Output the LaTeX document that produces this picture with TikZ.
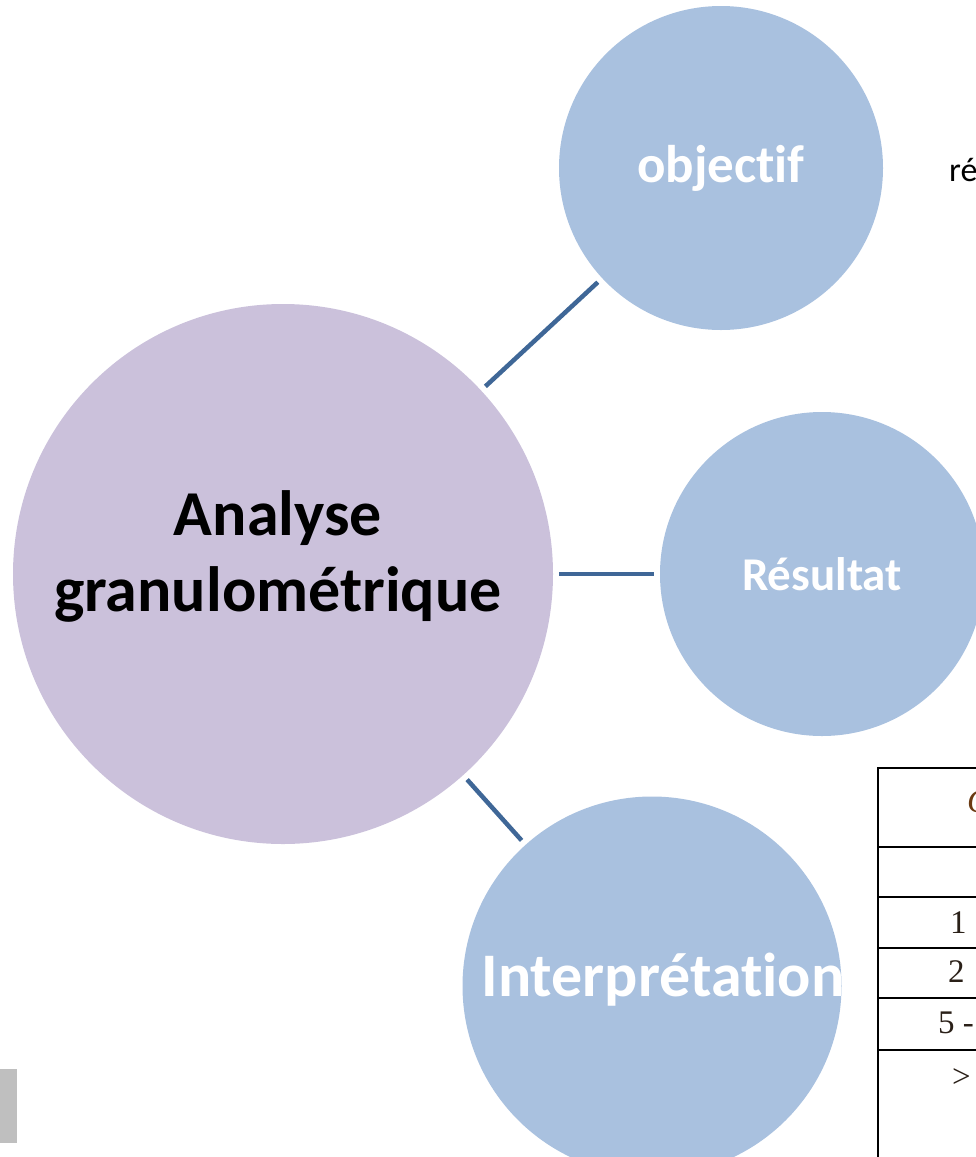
\documentclass[tikz,border=0pt]{standalone}
\usepackage{fontspec}
\setmainfont{Carlito}[RawFeature={-liga;-clig;-dlig}]
\newfontfamily\tabfont{Liberation Serif}
\definecolor{mauve}{HTML}{CBC1DB}
\definecolor{bleu}{HTML}{A9C1DF}
\definecolor{trait}{HTML}{3F6797}
\definecolor{encre}{HTML}{2A2018}
\definecolor{gris}{HTML}{BFBFBF}
\definecolor{brun}{HTML}{6B3A12}
\tikzset{
  bulle/.style={circle, inner sep=0pt, outer sep=0pt},
  titre/.style={text=white, font=\bfseries\fontsize{#1}{#1}\selectfont},
  lien/.style={draw=trait, line width=4.5pt, shorten <=6pt, shorten >=6pt},
  grille/.style={draw=black, line width=1.6pt},
  cellule/.style={text=encre, anchor=west, inner sep=0pt, font=\tabfont\fontsize{33}{33}\selectfont}
}

\begin{document}
\begin{tikzpicture}[x=1pt, y=-1pt]
\useasboundingbox (0,0) rectangle (976,1157);
\clip (0,0) rectangle (976,1157);

% central topic
\node[bulle, fill=mauve, minimum size=540pt] (main) at (283,574) {};
\node[align=center, font=\bfseries\fontsize{64}{76}\selectfont] (maintxt) at (278,556)
  {Analyse\\granulométrique};

% satellite topics
\node[bulle, fill=bleu, minimum size=324pt] (obj) at (721,168) {};
\node[titre=53] (objtxt) at (721,168) {objectif};
\node[bulle, fill=bleu, minimum size=324pt] (res) at (822,574) {};
\node[titre=47] (restxt) at (822,574) {Résultat};
\node[bulle, fill=bleu, minimum size=379pt] (int) at (652,986) {};
\node[titre=62] (inttxt) at (663,980) {Interprétation};

% connectors
\draw[lien] (main) -- (obj);
\draw[lien] (main) -- (res);
\draw[lien] (main) -- (int);

% text beside the objective
\node[anchor=west, inner sep=0pt, font=\fontsize{34}{34}\selectfont] (txt) at (949,170) {ré};

% table (left part)
\draw[grille] (878,1160) -- (878,768) -- (980,768);
\foreach \yy in {847,897,948,998,1050} \draw[grille] (878,\yy) -- (980,\yy);
\node[cellule, text=brun, font=\tabfont\itshape\fontsize{33}{33}\selectfont] (c0) at (967,802) {C};
\node[cellule] (c1) at (950,923) {1};
\node[cellule] (c2) at (948,972) {2};
\node[cellule] (c3) at (938,1023) {5 -};
\node[cellule] (c4) at (952,1078) {>};

% grey margin tab
\fill[gris] (0,1069) rectangle (17,1143);
\end{tikzpicture}
\end{document}
